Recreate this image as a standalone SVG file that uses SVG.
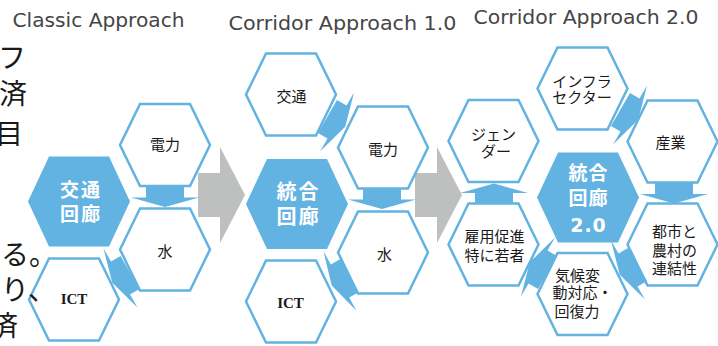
<svg xmlns="http://www.w3.org/2000/svg" width="718" height="346" viewBox="0 0 718 346">
<style>
.bg{fill:#fff}
.hexo{fill:#fff;stroke:#62B2E2;stroke-width:2.5;stroke-linejoin:miter}
.hexf{fill:#62B2E2;stroke:none}
.arr{fill:#62B2E2}
.big{fill:#BEBFBF}
.title{font-family:"DejaVu Sans",Verdana,sans-serif;font-size:20px;fill:#454545}
.frag{font-family:"Noto Sans CJK JP",sans-serif;font-size:28px;fill:#1a1a1a}
.lbl{font-family:"Noto Sans CJK JP",sans-serif;font-size:15px;fill:#1a1a1a;text-anchor:middle}
.lbl3{font-family:"Noto Sans CJK JP",sans-serif;font-size:15px;fill:#1a1a1a;text-anchor:middle}
.ict{font-family:"Liberation Serif",serif;font-weight:bold;font-size:15px;fill:#1a1a1a;text-anchor:middle}
.hub{font-family:"Noto Sans CJK JP",sans-serif;font-weight:bold;font-size:19px;fill:#fff;text-anchor:middle;letter-spacing:2px}
.hubn{font-family:"DejaVu Sans",Verdana,sans-serif;font-weight:bold;font-size:19px;fill:#fff;text-anchor:middle;letter-spacing:1px}
</style>
<defs>
<path id="ho" d="M-45,0 L-25,-41 L25,-41 L45,0 L25,41 L-25,41 Z"/>
<path id="hf" d="M-51,0 L-30,-45 L30,-45 L51,0 L30,45 L-30,45 Z"/>
<path id="ar" d="M-11,-19 L0,-19 L0,-34 L9.5,0 L0,34 L0,19 L-11,19 Z"/>
</defs>
<rect class="bg" x="0" y="0" width="718" height="346"/>

<g id="titles">
<text class="title" x="12.5" y="26.5" textLength="172" lengthAdjust="spacingAndGlyphs">Classic Approach</text>
<text class="title" x="228.5" y="29.5" textLength="228" lengthAdjust="spacingAndGlyphs">Corridor Approach 1.0</text>
<text class="title" x="473.5" y="24" textLength="225" lengthAdjust="spacingAndGlyphs">Corridor Approach 2.0</text>
</g>

<g id="transition-arrows">
<polygon class="big" points="198,173 220,173 220,147 245,195 220,243 220,217 198,217"/>
<polygon class="big" points="415,173 437,173 437,147 462,195 437,243 437,217 415,217"/>
</g>

<!-- Panel 1 -->
<g id="p1-hub"><use href="#hf" class="hexf" transform="translate(79,201.5)"/>
<text class="hub" x="81" y="197">交通</text><text class="hub" x="81" y="221">回廊</text></g>
<g id="p1-denryoku"><use href="#ho" class="hexo" transform="translate(165,145)"/><text class="lbl" x="165" y="149.5">電力</text></g>
<g id="p1-mizu"><use href="#ho" class="hexo" transform="translate(165,249.5)"/><text class="lbl" x="165" y="256.5">水</text></g>
<g id="p1-ict"><use href="#ho" class="hexo" transform="translate(74,299.5)"/><text class="ict" x="74" y="304">ICT</text></g>

<!-- Panel 2 -->
<g id="p2-hub"><use href="#hf" class="hexf" transform="translate(297,204)"/>
<text class="hub" x="298.5" y="199" style="font-size:20px">統合</text><text class="hub" x="298.5" y="223.5" style="font-size:20px">回廊</text></g>
<g id="p2-kotsu"><use href="#ho" class="hexo" transform="translate(291,94.5)"/><text class="lbl" x="291.5" y="101.5">交通</text></g>
<g id="p2-denryoku"><use href="#ho" class="hexo" transform="translate(383,147.5)"/><text class="lbl" x="383" y="154.5">電力</text></g>
<g id="p2-mizu"><use href="#ho" class="hexo" transform="translate(383,252.5)"/><text class="lbl" x="384.5" y="259.5">水</text></g>
<g id="p2-ict"><use href="#ho" class="hexo" transform="translate(291,301.5)"/><text class="ict" x="290.5" y="307.5">ICT</text></g>

<!-- Panel 3 -->
<g id="p3-hub"><use href="#hf" class="hexf" transform="translate(588,197.5)"/>
<text class="hub" x="588.5" y="179.5" style="letter-spacing:1px">統合</text><text class="hub" x="588.5" y="204.5" style="letter-spacing:1px">回廊</text>
<text class="hubn" x="588.5" y="232">2.0</text></g>
<g id="p3-infra"><use href="#ho" class="hexo" transform="translate(582.5,88.5)"/>
<text class="lbl3" x="582" y="86.5">インフラ</text><text class="lbl3" x="582" y="103">セクター</text></g>
<g id="p3-sangyo"><use href="#ho" class="hexo" transform="translate(672.5,141.5)"/><text class="lbl3" x="670.5" y="148">産業</text></g>
<g id="p3-gender"><use href="#ho" class="hexo" transform="translate(493.5,141)"/>
<text class="lbl3" x="493.5" y="139.5">ジェン</text><text class="lbl3" x="496" y="156.5">ダー</text></g>
<g id="p3-koyo"><use href="#ho" class="hexo" transform="translate(493.5,244.5)"/>
<text class="lbl3" x="494.5" y="242">雇用促進</text><text class="lbl3" x="494.5" y="260.5">特に若者</text></g>
<g id="p3-toshi"><use href="#ho" class="hexo" transform="translate(672.5,244.5)"/>
<text class="lbl3" x="674.5" y="237">都市と</text><text class="lbl3" x="674.5" y="256">農村の</text><text class="lbl3" x="674.5" y="274">連結性</text></g>
<g id="p3-kiko"><use href="#ho" class="hexo" transform="translate(582.5,294)"/>
<text class="lbl3" x="577.5" y="280.5">気候変</text><text class="lbl3" x="582.5" y="298">動対応・</text><text class="lbl3" x="577" y="316.5">回復力</text></g>

<g id="connectors">
<use href="#ar" class="arr" transform="translate(165,197.5) rotate(90)"/>
<use href="#ar" class="arr" transform="translate(120.5,278) rotate(150)"/>
<use href="#ar" class="arr" transform="translate(337,122) rotate(30)"/>
<use href="#ar" class="arr" transform="translate(382,199.5) rotate(90)"/>
<use href="#ar" class="arr" transform="translate(340,281) rotate(151)"/>
<use href="#ar" class="arr" transform="translate(630,115) rotate(30)"/>
<use href="#ar" class="arr" transform="translate(674,194) rotate(90)"/>
<use href="#ar" class="arr" transform="translate(628,270) rotate(150)"/>
<use href="#ar" class="arr" transform="translate(538,267) rotate(210)"/>
<use href="#ar" class="arr" transform="translate(494,193) rotate(-90)"/>
</g>

<g id="background-text">
<text class="frag" x="26" y="68" text-anchor="end">ンフ</text>
<text class="frag" x="27" y="104" text-anchor="end">済</text>
<text class="frag" x="23" y="144" text-anchor="end">目</text>
<text class="frag" x="57" y="265" text-anchor="end">いる。</text>
<text class="frag" x="56" y="300" text-anchor="end">たり、</text>
<text class="frag" x="18" y="336" text-anchor="end">済</text>
</g>
</svg>
